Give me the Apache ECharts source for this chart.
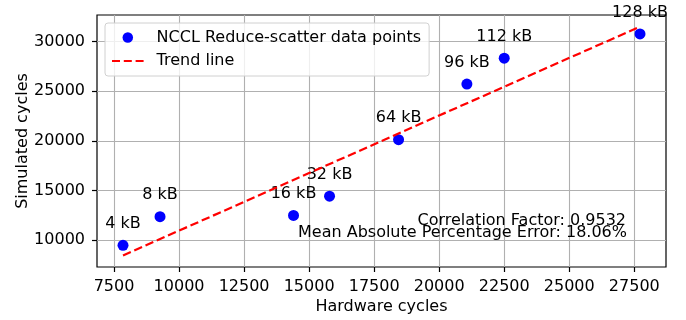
<!DOCTYPE html>
<html>
<head>
<meta charset="utf-8">
<script src="https://cdn.jsdelivr.net/npm/echarts@6/dist/echarts.min.js"></script>
<style>
  html, body { margin: 0; padding: 0; background: #fff; }
  #chart { width: 686px; height: 320px; }
</style>
</head>
<body>
<div id="chart"></div>
<script>
// data
var sizes = ['4 kB', '8 kB', '16 kB', '32 kB', '64 kB', '96 kB', '112 kB', '128 kB']
var hwCycles = [7846, 9269, 14400, 15785, 18438, 21065, 22500, 27719]
var simCycles = [9467, 12352, 12482, 14422, 20121, 25719, 28332, 30774]
var trendX = [7846, 27719]
var trendY = [8450, 31510]
var xTicks = [7500, 10000, 12500, 15000, 17500, 20000, 22500, 25000, 27500]
var yTicks = [10000, 15000, 20000, 25000, 30000]
var corrText = 'Correlation Factor: 0.9532'
var mapeText = 'Mean Absolute Percentage Error: 18.06%'

var font = 'DejaVu Sans'
var fs = 16
var myChart = echarts.init(document.getElementById('chart'), null, { renderer: 'canvas' })

var points = hwCycles.map(function (x, i) {
  return { name: sizes[i], value: [x, simCycles[i]] }
})
var trend = trendX.map(function (x, i) { return [x, trendY[i]] })

// dashed legend icon (three dashes)
var dashIcon = 'path://M0,0h8v2.2h-8z M11.8,0h8v2.2h-8z M23.6,0h8v2.2h-8z'

var axisCommon = {
  type: 'value',
  nameLocation: 'middle',
  nameMoveOverlap: false,
  nameTextStyle: { fontFamily: font, fontSize: fs, color: '#000' },
  axisLine: { show: false },
  axisTick: { show: true, inside: false, length: 5, lineStyle: { color: '#000', width: 1.2 } },
  axisLabel: { fontFamily: font, fontSize: fs, color: '#000', formatter: function (v) { return String(v) } },
  splitLine: { show: true, lineStyle: { color: '#b0b0b0', width: 1.1 } }
}

var option = {
  animation: false,
  textStyle: { fontFamily: font },
  grid: {
    left: 97,
    right: 20,
    top: 15,
    bottom: 52,
    show: true,
    borderColor: '#000',
    borderWidth: 1.2,
    backgroundColor: 'transparent'
  },
  legend: {
    orient: 'vertical',
    left: 105,
    top: 23,
    padding: [6.5, 8, 7, 7],
    itemGap: 7.5,
    itemWidth: 31.6,
    itemHeight: 10.5,
    backgroundColor: 'rgba(255,255,255,0.8)',
    borderColor: '#d0d0d0',
    borderWidth: 1,
    borderRadius: 3,
    textStyle: { fontFamily: font, fontSize: fs, color: '#000', padding: [0, 0, 0, 8] },
    data: [
      { name: 'NCCL Reduce-scatter data points', icon: 'circle' },
      { name: 'Trend line', icon: dashIcon, itemStyle: { color: '#ff0000' } }
    ]
  },
  xAxis: Object.assign({}, axisCommon, {
    name: 'Hardware cycles',
    nameGap: 32,
    min: 6846,
    max: 28719,
    axisTick: Object.assign({}, axisCommon.axisTick, { customValues: xTicks }),
    axisLabel: Object.assign({}, axisCommon.axisLabel, { margin: 12, customValues: xTicks })
  }),
  yAxis: Object.assign({}, axisCommon, {
    name: 'Simulated cycles',
    nameGap: 66,
    min: 7286,
    max: 32683,
    axisTick: Object.assign({}, axisCommon.axisTick, { customValues: yTicks }),
    axisLabel: Object.assign({}, axisCommon.axisLabel, { margin: 12, customValues: yTicks })
  }),
  series: [
    {
      name: 'NCCL Reduce-scatter data points',
      type: 'scatter',
      symbol: 'circle',
      symbolSize: 11,
      itemStyle: { color: '#0000ff', opacity: 1 },
      label: {
        show: true,
        position: 'top',
        distance: 8,
        formatter: '{b}',
        fontFamily: font,
        fontSize: fs,
        color: '#000'
      },
      data: points,
      z: 2
    },
    {
      name: 'Trend line',
      type: 'line',
      symbol: 'none',
      lineStyle: { color: '#ff0000', width: 2.2, type: [8.5, 3.8] },
      itemStyle: { color: '#ff0000' },
      data: trend,
      z: 3
    }
  ],
  graphic: [
    {
      type: 'text',
      x: 626,
      y: 221,
      z: 10,
      style: { text: corrText, font: fs + 'px "DejaVu Sans"', fill: '#000', align: 'right', verticalAlign: 'middle' }
    },
    {
      type: 'text',
      x: 627,
      y: 233,
      z: 10,
      style: { text: mapeText, font: fs + 'px "DejaVu Sans"', fill: '#000', align: 'right', verticalAlign: 'middle' }
    }
  ]
}

myChart.setOption(option)
</script>
</body>
</html>
